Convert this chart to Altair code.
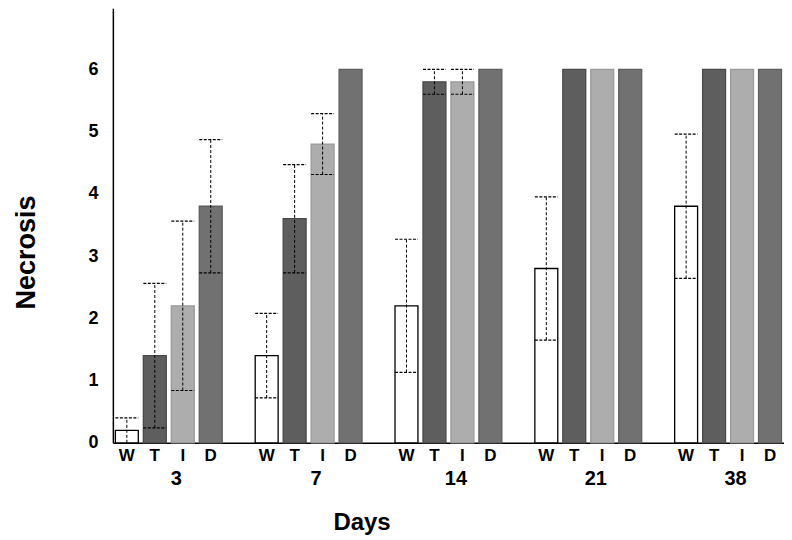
import json
import altair as alt
import pandas as pd

days = ["3", "7", "14", "21", "38"]
groups = ["W", "T", "I", "D"]

mean_W = [0.2, 1.4, 2.2, 2.8, 3.8]
mean_T = [1.4, 3.6, 5.8, 6.0, 6.0]
mean_I = [2.2, 4.8, 5.8, 6.0, 6.0]
mean_D = [3.8, 6.0, 6.0, 6.0, 6.0]

sd_W = [0.2, 0.68, 1.07, 1.15, 1.16]
sd_T = [1.16, 0.87, 0.2, 0.0, 0.0]
sd_I = [1.36, 0.49, 0.2, 0.0, 0.0]
sd_D = [1.07, 0.0, 0.0, 0.0, 0.0]

y_ticks = [0, 1, 2, 3, 4, 5, 6]

means = {"W": mean_W, "T": mean_T, "I": mean_I, "D": mean_D}
sds = {"W": sd_W, "T": sd_T, "I": sd_I, "D": sd_D}

rows = []
for di, d in enumerate(days):
    for g in groups:
        rows.append({"Day": d, "Group": g, "Mean": means[g][di], "SD": sds[g][di]})
df = pd.DataFrame(rows)

FONT = "Liberation Sans"
fills = ["#ffffff", "#5e5e5e", "#adadad", "#717171"]
strokes = ["#000000", "#4a4a4a", "#9a9a9a", "#5e5e5e"]
HALF = 0.41
SLOTS = len(groups) + 1

slot_expr = (f"indexof({json.dumps(days)}, datum.Day) * {SLOTS} + "
             f"indexof({json.dumps(groups)}, datum.Group)")
label_expr = f"{json.dumps(days)}[floor(datum.value / {SLOTS})]"
centers = [i * SLOTS + (len(groups) - 1) / 2 for i in range(len(days))]

x_scale = alt.Scale(domain=[-0.5, len(days) * SLOTS - 1.5], nice=False, zero=False)
y_scale = alt.Scale(domain=[0, 6.98], nice=False)

base = alt.Chart(df).transform_calculate(
    slot=slot_expr
).transform_calculate(
    xa=f"datum.slot - {HALF}", xb=f"datum.slot + {HALF}",
    lo="max(datum.Mean - datum.SD, 0)", hi="min(datum.Mean + datum.SD, 6)"
)

x_axis = alt.Axis(values=centers, labelExpr=label_expr, ticks=False, grid=False,
                  labelFontSize=20, labelFontWeight="bold", labelFont=FONT,
                  labelColor="black", labelPadding=26, labelOffset=7,
                  domainColor="black", domainWidth=1.5,
                  title="Days", titleFontSize=24, titleFontWeight="bold",
                  titleFont=FONT, titleColor="black", titleX=249, titleY=87,
                  titleBaseline="alphabetic", titleAlign="center")
y_axis = alt.Axis(values=y_ticks, format="d", ticks=False, grid=False,
                  labelFontSize=18, labelFontWeight="bold", labelFont=FONT,
                  labelColor="black", labelPadding=15,
                  domainColor="black", domainWidth=1.5,
                  title="Necrosis", titleFontSize=27, titleFontWeight="bold",
                  titleFont=FONT, titleColor="black", titleX=-86, titleY=244,
                  titleAngle=270, titleAlign="center", titleBaseline="middle")

bars = base.mark_bar(strokeWidth=1.3).encode(
    x=alt.X("xa:Q", scale=x_scale, axis=x_axis),
    x2="xb:Q",
    y=alt.Y("Mean:Q", scale=y_scale, axis=y_axis),
    y2=alt.datum(0),
    fill=alt.Fill("Group:N", scale=alt.Scale(domain=groups, range=fills), legend=None),
    stroke=alt.Stroke("Group:N", scale=alt.Scale(domain=groups, range=strokes), legend=None),
)

err = base.transform_filter("datum.SD > 0")

vline = err.mark_rule(color="black", strokeWidth=1, strokeDash=[3, 2]).encode(
    x="slot:Q", y="lo:Q", y2="hi:Q"
)
cap_hi = err.mark_rule(color="black", strokeWidth=1.2, strokeDash=[3, 1.5]).encode(
    x="xa:Q", x2="xb:Q", y="hi:Q"
)
cap_lo = err.transform_filter("datum.lo > 0").mark_rule(
    color="black", strokeWidth=1.2, strokeDash=[3, 1.5]
).encode(x="xa:Q", x2="xb:Q", y="lo:Q")

letters = base.mark_text(dy=13, fontSize=17, fontWeight="bold", font=FONT,
                         color="black", baseline="middle").encode(
    x="slot:Q", y=alt.datum(0), text="Group:N"
)

chart = alt.layer(bars, vline, cap_hi, cap_lo, letters).properties(
    width=672, height=435,
    autosize=alt.AutoSizeParams(type="none"),
    padding={"left": 105, "top": 0, "right": 0, "bottom": 97},
).configure_view(stroke=None)

chart.save("out.html", embed_options={"renderer": "svg", "actions": False})
